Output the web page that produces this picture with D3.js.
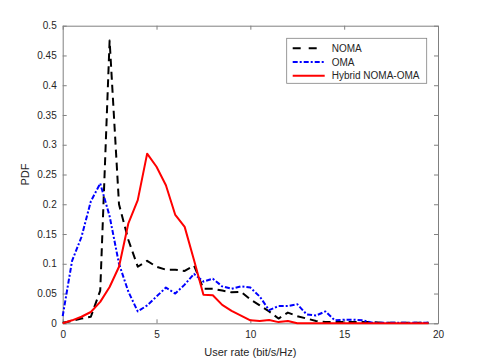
<!DOCTYPE html>
<html>
<head>
<meta charset="utf-8">
<script src="https://cdn.jsdelivr.net/npm/d3@7"></script>
<style>
  body { margin: 0; background: #fff; }
  text { font-family: "Liberation Sans", Arial, sans-serif; fill: #262626; }
</style>
</head>
<body>
<script>
// user rate bins (bit/s/Hz)
const rates = d3.range(0, 20, 0.5);

const noma = [0.001, 0.004, 0.008, 0.011, 0.055, 0.475, 0.2, 0.14, 0.095, 0.105,
  0.095, 0.09, 0.09, 0.088, 0.097, 0.058, 0.058, 0.055, 0.052, 0.053,
  0.04, 0.03, 0.02, 0.008, 0.018, 0.012, 0.008, 0.004, 0.002, 0.002,
  0.002, 0.002, 0.002, 0.002, 0.001, 0.001, 0.001, 0.001, 0.001, 0.001];

const oma = [0.012, 0.105, 0.145, 0.205, 0.235, 0.18, 0.1, 0.053, 0.02, 0.03,
  0.045, 0.06, 0.05, 0.065, 0.083, 0.07, 0.075, 0.062, 0.058, 0.062,
  0.06, 0.045, 0.022, 0.029, 0.029, 0.032, 0.015, 0.013, 0.02, 0.005,
  0.006, 0.006, 0.005, 0.001, 0.001, 0.001, 0.001, 0.001, 0.001, 0.001];

const hybrid = [0, 0.005, 0.011, 0.019, 0.036, 0.061, 0.095, 0.168, 0.207, 0.285,
  0.263, 0.232, 0.182, 0.162, 0.106, 0.048, 0.047, 0.031, 0.021, 0.013,
  0.005, 0.004, 0.0055, 0.002, 0.004, 0, 0, 0, 0, 0,
  0, 0, 0, 0, 0, 0, 0, 0, 0, 0];

const xTicks = [0, 5, 10, 15, 20];
const yTicks = d3.range(0, 0.5001, 0.05);

const series = [
  { name: "NOMA", values: noma, color: "#000", dash: "8,5" },
  { name: "OMA", values: oma, color: "#0000ff", dash: "5,2,2,2" },
  { name: "Hybrid NOMA-OMA", values: hybrid, color: "#ff0000", dash: null }
];

const width = 485, height = 363;
const margin = { left: 62.7, right: 47, top: 25.7, bottom: 39.7 };

const svg = d3.select("body").append("svg")
  .attr("width", width)
  .attr("height", height);

const x = d3.scaleLinear().domain([0, 20]).range([margin.left, width - margin.right]);
const y = d3.scaleLinear().domain([0, 0.5]).range([height - margin.bottom, margin.top]);

const axisColor = "#808080";
const fmt = d => d3.format("~g")(+d.toFixed(2));

// axes with inner ticks (MATLAB style box)
function styleAxis(g, showText) {
  g.select(".domain").attr("stroke", axisColor);
  g.selectAll(".tick line").attr("stroke", axisColor);
  g.selectAll(".tick text").attr("font-size", 10).attr("fill", "#262626")
    .style("display", showText ? null : "none");
}

svg.append("g")
  .attr("transform", `translate(0,${y(0)})`)
  .call(d3.axisBottom(x).tickValues(xTicks).tickSizeInner(-4).tickSizeOuter(0).tickPadding(8).tickFormat(fmt))
  .call(g => styleAxis(g, true));

svg.append("g")
  .attr("transform", `translate(0,${y(0.5)})`)
  .call(d3.axisTop(x).tickValues(xTicks).tickSizeInner(-4).tickSizeOuter(0))
  .call(g => styleAxis(g, false));

svg.append("g")
  .attr("transform", `translate(${x(0)},0)`)
  .call(d3.axisLeft(y).tickValues(yTicks).tickSizeInner(-4).tickSizeOuter(0).tickPadding(6).tickFormat(fmt))
  .call(g => styleAxis(g, true));

svg.append("g")
  .attr("transform", `translate(${x(20)},0)`)
  .call(d3.axisRight(y).tickValues(yTicks).tickSizeInner(-4).tickSizeOuter(0))
  .call(g => styleAxis(g, false));

svg.selectAll(".domain").attr("stroke-width", 1);

// lines
const line = d3.line()
  .x((d, i) => x(rates[i]))
  .y(d => y(d));

svg.selectAll(".series")
  .data(series)
  .enter().append("path")
  .attr("class", "series")
  .attr("d", d => line(d.values))
  .attr("fill", "none")
  .attr("stroke", d => d.color)
  .attr("stroke-width", 2)
  .attr("stroke-dasharray", d => d.dash)
  .attr("stroke-linejoin", "round");

// axis labels
svg.append("text")
  .attr("x", (x(0) + x(20)) / 2)
  .attr("y", 356)
  .attr("text-anchor", "middle")
  .attr("font-size", 11)
  .text("User rate (bit/s/Hz)");

svg.append("text")
  .attr("transform", `translate(29,${y(0.25)}) rotate(-90)`)
  .attr("text-anchor", "middle")
  .attr("font-size", 11)
  .text("PDF");

// legend
const legend = svg.append("g").attr("transform", "translate(286.7,38.3)");
legend.append("rect")
  .attr("width", 140)
  .attr("height", 45)
  .attr("fill", "#fff")
  .attr("stroke", axisColor)
  .attr("stroke-width", 0.8);

const item = legend.selectAll(".item")
  .data(series)
  .enter().append("g")
  .attr("transform", (d, i) => `translate(0,${10 + i * 13.7})`);

item.append("line")
  .attr("x1", 6).attr("x2", 38)
  .attr("stroke", d => d.color)
  .attr("stroke-width", 2)
  .attr("stroke-dasharray", d => d.name === "NOMA" ? "8,8" : d.dash);

item.append("text")
  .attr("x", 45)
  .attr("y", 3.5)
  .attr("font-size", 10)
  .text(d => d.name);
</script>
</body>
</html>
